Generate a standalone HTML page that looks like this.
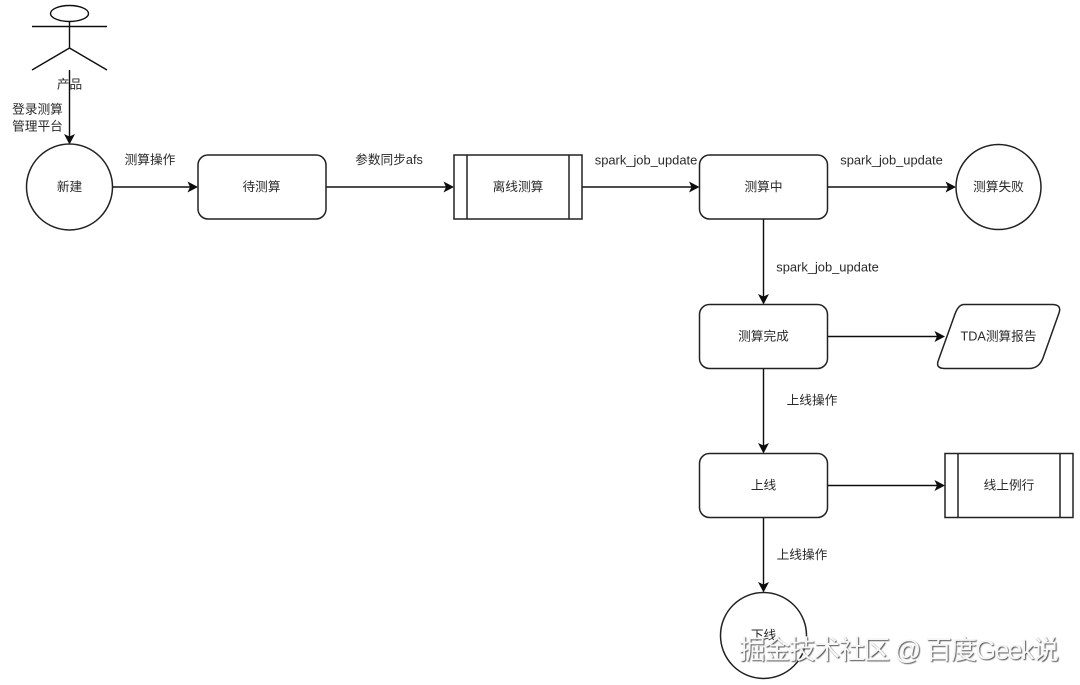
<!DOCTYPE html>
<html><head><meta charset="utf-8">
<style>
html,body{margin:0;padding:0;background:#fff}
svg{display:block}
text{font-family:"Liberation Sans","Noto Sans CJK SC",sans-serif;font-size:12.7px;fill:#2a2a2a;text-anchor:middle;dominant-baseline:central}
text.l{font-size:12.9px}
.s{fill:none;stroke:#111;stroke-width:1.4}
.n{fill:#fff;stroke:#222;stroke-width:1.5}
.a{fill:#111;stroke:none}
.wm{font-size:26.5px;text-anchor:start;fill:#f6f6f6;stroke:none;filter:drop-shadow(1px 1px 0.5px #555)}
</style></head>
<body>
<svg xmlns="http://www.w3.org/2000/svg" width="1080" height="685" viewBox="0 0 1080 685">
<defs><filter id="soft" filterUnits="userSpaceOnUse" x="0" y="0" width="1080" height="685"><feGaussianBlur stdDeviation="0.35"/></filter></defs>
<rect width="1080" height="685" fill="#fff"/>
<g filter="url(#soft)">
<!-- actor -->
<ellipse class="s" cx="69.5" cy="13.5" rx="19" ry="8"/>
<path class="s" d="M69.5 21.5V48M32 26.5H107M69.5 48L32 70M69.5 48L107 70"/>

<!-- connectors -->
<path class="s" d="M69.5 70V137"/>
<path class="a" d="M69.5 144.500L64 134L69.5 136.500L75 134Z"/>
<path class="s" d="M112.500 187H191"/>
<path class="a" d="M198 187L187.500 181.500L190 187L187.500 192.500Z"/>
<path class="s" d="M326 187H447"/>
<path class="a" d="M454 187L443.500 181.500L446 187L443.500 192.500Z"/>
<path class="s" d="M582 187H692"/>
<path class="a" d="M699.500 187L689 181.500L691.500 187L689 192.500Z"/>
<path class="s" d="M827.500 187H948"/>
<path class="a" d="M956 187L945.500 181.500L948 187L945.500 192.500Z"/>
<path class="s" d="M763.500 219V297"/>
<path class="a" d="M763.500 304.500L758 294L763.500 296.500L769 294Z"/>
<path class="s" d="M827.500 336.500H938"/>
<path class="a" d="M945 336.500L934.500 331L937 336.500L934.500 342Z"/>
<path class="s" d="M763.500 368.500V446"/>
<path class="a" d="M763.500 453.500L758 443L763.500 445.500L769 443Z"/>
<path class="s" d="M827.500 485.500H938"/>
<path class="a" d="M945 485.500L934.500 480L937 485.500L934.500 491Z"/>
<path class="s" d="M763.500 517.500V585"/>
<path class="a" d="M763.500 592.500L758 582L763.500 584.500L769 582Z"/>

<!-- nodes -->
<circle class="n" cx="69.500" cy="187" r="43"/>
<rect class="n" x="198" y="155" width="128" height="64" rx="10"/>
<rect class="n" x="454" y="155" width="128" height="64"/>
<path class="n" d="M467 155V219M569 155V219"/>
<rect class="n" x="699.500" y="155" width="128" height="64" rx="10"/>
<circle class="n" cx="998.500" cy="187" r="42.500"/>
<rect class="n" x="699.500" y="304.500" width="128" height="64" rx="10"/>
<path class="n" d="M964 304.500H1052Q1062 304.500 1059 313L1043 358Q1039 368.500 1029 368.500H945Q935 368.500 938.500 360L955 314Q958.500 304.500 964 304.500Z"/>
<rect class="n" x="699.500" y="453.500" width="128" height="64" rx="10"/>
<rect class="n" x="945" y="453.500" width="128" height="64"/>
<path class="n" d="M958 453.500V517.500M1060 453.500V517.500"/>
<circle class="n" cx="763.500" cy="635.500" r="43"/>

<!-- labels -->
<text x="69.500" y="84.500">产品</text>
<text x="37.500" y="109.500">登录测算</text>
<text x="37.500" y="126.500">管理平台</text>
<text x="69.500" y="187">新建</text>
<text x="150" y="160">测算操作</text>
<text x="261.500" y="187">待测算</text>
<text x="389" y="160">参数同步afs</text>
<text x="518" y="187">离线测算</text>
<text class="l" x="646" y="160">spark_job_update</text>
<text x="763.500" y="187">测算中</text>
<text class="l" x="891.500" y="160">spark_job_update</text>
<text x="998.500" y="187">测算失败</text>
<text class="l" x="827.500" y="267">spark_job_update</text>
<text x="763.500" y="336.500">测算完成</text>
<text x="998.500" y="336.500">TDA测算报告</text>
<text x="812" y="400.500">上线操作</text>
<text x="763.500" y="485.500">上线</text>
<text x="1009" y="485.500">线上例行</text>
<text x="802" y="555">上线操作</text>
<text x="763.500" y="635.500">下线</text>
</g>
<!-- watermark -->
<text class="wm" x="739" y="650" textLength="320" lengthAdjust="spacing">掘金技术社区 @ 百度Geek说</text>
</svg>
</body></html>
